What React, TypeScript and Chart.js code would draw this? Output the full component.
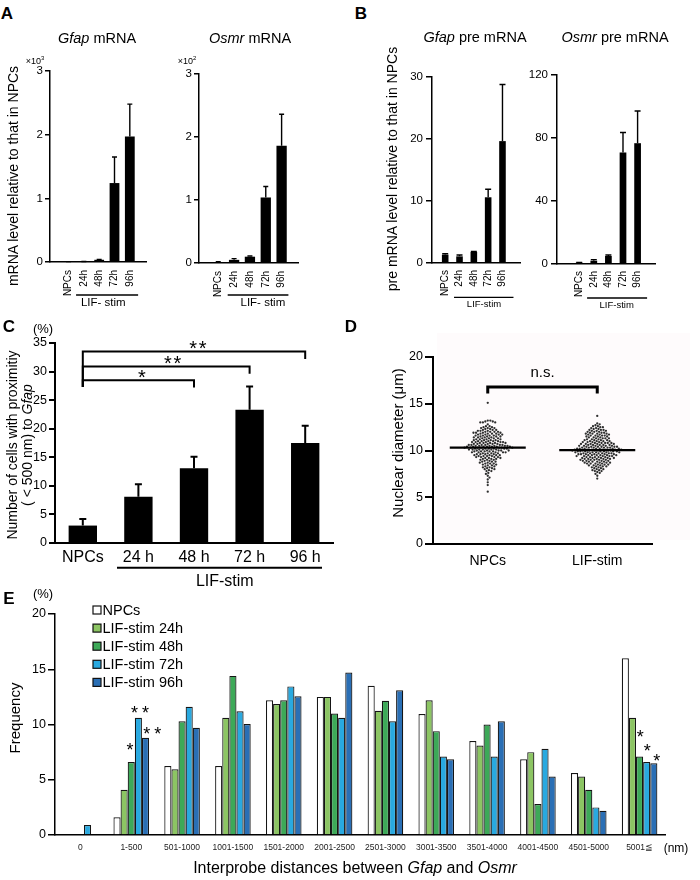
import React, { useEffect, useRef } from "react";
import { Chart, registerables } from "chart.js";

Chart.register(...registerables);

const FONT = "'Liberation Sans', Arial, Helvetica, sans-serif";
Chart.defaults.font.family = FONT;
Chart.defaults.color = "#000";

/* ---------------- panel A data ---------------- */
const timeLabels = ["NPCs", "24h", "48h", "72h", "96h"];
const gfapMrna = [0.004, 0.005, 0.035, 1.24, 1.97];
const gfapMrnaErr = [0.006, 0.007, 0.04, 1.65, 2.48];
const osmrMrna = [0.015, 0.05, 0.1, 1.04, 1.86];
const osmrMrnaErr = [0.02, 0.07, 0.11, 1.215, 2.36];

/* ---------------- panel B data ---------------- */
const gfapPre = [1.34, 1.07, 1.77, 10.6, 19.66];
const gfapPreErr = [1.5, 1.29, 1.85, 11.9, 28.8];
const osmrPre = [0.85, 2.1, 5.1, 70.8, 76.7];
const osmrPreErr = [1.0, 2.8, 5.7, 83.5, 97.1];

/* ---------------- panel C data ---------------- */
const proxLabels = ["NPCs", "24 h", "48 h", "72 h", "96 h"];
const proxValues = [3.05, 8.1, 13.1, 23.3, 17.5];
const proxErrTop = [4.2, 10.3, 15.1, 27.4, 20.5];
const proxBracketTarget = [2, 3, 4];
const proxBracketLevel = [28.5, 30.9, 33.5];
const proxBracketStars = [1, 2, 2];
const proxBracketBase = 27.3;

/* ---------------- panel D data ---------------- */
const diamGroups = ["NPCs", "LIF-stim"];
const npcDiamValues = [15.1, 13.2, 13.1, 13.0, 12.8, 12.6, 12.5, 12.4, 12.3, 12.2, 12.1, 12.0, 11.9, 11.8, 11.7, 11.6, 11.5, 11.4, 11.3, 11.2, 11.1, 11.0, 10.9, 10.8, 10.7, 10.6, 10.5, 10.4, 10.3, 10.2, 10.1, 10.0, 9.9, 9.8, 9.7, 9.6, 9.5, 9.4, 9.3, 9.2, 9.1, 9.0, 8.9, 8.8, 8.7, 8.6, 8.5, 8.4, 8.3, 8.2, 8.1, 8.0, 7.9, 7.8, 7.6, 7.5, 7.3, 7.1, 6.9, 6.6, 6.3, 5.6];
const npcDiamCounts = [1, 2, 2, 3, 1, 2, 2, 3, 2, 3, 3, 4, 4, 4, 4, 4, 4, 4, 4, 4, 4, 5, 5, 5, 5, 6, 6, 7, 7, 6, 6, 5, 5, 5, 4, 4, 4, 4, 4, 3, 3, 3, 2, 3, 2, 3, 2, 2, 2, 2, 2, 2, 1, 2, 1, 1, 1, 1, 1, 1, 1, 1];
const lifDiamValues = [13.7, 12.9, 12.8, 12.7, 12.6, 12.5, 12.4, 12.3, 12.2, 12.1, 12.0, 11.9, 11.8, 11.7, 11.6, 11.5, 11.4, 11.3, 11.2, 11.1, 11.0, 10.9, 10.8, 10.7, 10.6, 10.5, 10.4, 10.3, 10.2, 10.1, 10.0, 9.9, 9.8, 9.7, 9.6, 9.5, 9.4, 9.3, 9.2, 9.1, 9.0, 8.9, 8.8, 8.7, 8.6, 8.5, 8.4, 8.3, 8.2, 8.1, 8.0, 7.9, 7.8, 7.7, 7.6, 7.5, 7.3, 7.0];
const lifDiamCounts = [1, 1, 1, 1, 2, 2, 2, 2, 3, 3, 3, 3, 4, 3, 4, 3, 3, 4, 3, 4, 4, 4, 5, 5, 5, 5, 6, 6, 7, 7, 7, 7, 6, 6, 6, 6, 5, 5, 5, 5, 5, 4, 4, 4, 4, 3, 3, 3, 2, 2, 2, 2, 2, 1, 1, 1, 1, 1];
const diamMedians = [10.3, 10.05];
const diamBracketLevel = 16.8;
const diamBracketBase = 16.1;

/* ---------------- panel E data ---------------- */
const distLabels = ["0", "1-500", "501-1000", "1001-1500", "1501-2000", "2001-2500", "2501-3000", "3001-3500", "3501-4000", "4001-4500", "4501-5000", "5001≦"];
const distSeries = ["NPCs", "LIF-stim 24h", "LIF-stim 48h", "LIF-stim 72h", "LIF-stim 96h"];
const distNPCs = [0, 1.6, 6.25, 6.25, 12.2, 12.5, 13.5, 10.95, 8.5, 6.85, 5.6, 16.0];
const dist24h = [0, 4.1, 5.95, 10.6, 11.85, 12.5, 11.25, 12.2, 8.1, 7.5, 5.3, 10.6];
const dist48h = [0, 6.6, 10.3, 14.4, 12.2, 11.0, 12.15, 9.4, 10.0, 2.8, 4.1, 7.1];
const dist72h = [0.9, 10.6, 11.6, 11.2, 13.45, 10.6, 10.3, 7.1, 7.1, 7.8, 2.5, 6.6];
const dist96h = [0, 8.8, 9.7, 10.05, 12.55, 14.7, 13.1, 6.85, 10.3, 5.3, 2.2, 6.5];
const distSigCategory = [1, 1, 1, 11, 11, 11];
const distSigSeries = [2, 3, 4, 2, 3, 4];
const distSigStars = [1, 2, 2, 1, 1, 1];

/* ---------------- styles ---------------- */
const distColors = ["#ffffff", "#8cc563", "#3da958", "#29a9e0", "#2a6fb5"];
const distSigOffset = [[-1.2, -16.4], [1.6, -8.9], [6.8, -8.5], [0.7, -23.8], [0.6, -15.4], [2.9, -6.5]];

const f = (size: number, style = "") => `${style} ${size}px ${FONT}`.trim();

function drawStars(ctx: any, n: number, cx: number, cy: number, size: number, sep: number) {
  ctx.save();
  ctx.font = f(size);
  ctx.textAlign = "center";
  ctx.textBaseline = "alphabetic";
  ctx.fillStyle = "#000";
  for (let k = 0; k < n; k++) {
    ctx.fillText("*", cx + (k - (n - 1) / 2) * sep, cy + 0.57 * size);
  }
  ctx.restore();
}

function errorBars(errTop: number[], capHalf: number, lw: number) {
  return {
    id: "errorBars",
    afterDatasetsDraw(chart: any) {
      const meta = chart.getDatasetMeta(0);
      const ys = chart.scales.y;
      const ctx = chart.ctx;
      ctx.save();
      ctx.strokeStyle = "#000";
      ctx.lineWidth = lw;
      meta.data.forEach((bar: any, i: number) => {
        const top = ys.getPixelForValue(errTop[i]);
        ctx.beginPath();
        ctx.moveTo(bar.x, bar.y);
        ctx.lineTo(bar.x, top);
        ctx.moveTo(bar.x - capHalf, top);
        ctx.lineTo(bar.x + capHalf, top);
        ctx.stroke();
      });
      ctx.restore();
    },
  };
}

function groupLine(o: any) {
  return {
    id: "groupLine",
    afterDraw(chart: any) {
      const xs = chart.scales.x;
      const ca = chart.chartArea;
      const ctx = chart.ctx;
      const a = xs.getPixelForValue(o.from);
      const b = xs.getPixelForValue(o.to);
      const y = ca.bottom + o.lineDy;
      ctx.save();
      ctx.strokeStyle = "#000";
      ctx.lineWidth = o.lw;
      ctx.beginPath();
      ctx.moveTo(a - o.dl, y);
      ctx.lineTo(b + o.dr, y);
      ctx.stroke();
      ctx.font = f(o.size);
      ctx.textAlign = "center";
      ctx.textBaseline = "middle";
      ctx.fillStyle = "#000";
      ctx.fillText(o.text, (a + b) / 2 + o.textDx, ca.bottom + o.textDy);
      ctx.restore();
    },
  };
}

function yAxis(max: number, step: number, W: number, tickLen: number, pad: number, lw: number, size: number) {
  return {
    type: "linear",
    min: 0,
    max,
    afterFit: (s: any) => {
      s.width = W;
    },
    ticks: { stepSize: step, padding: pad, font: { size }, color: "#000" },
    grid: { drawOnChartArea: false, drawTicks: true, tickLength: tickLen, color: "#000", lineWidth: lw },
    border: { display: true, color: "#000", width: lw },
  };
}

const baseOptions = (padding: any) => ({
  responsive: false,
  maintainAspectRatio: false,
  animation: false,
  devicePixelRatio: 1,
  layout: { padding },
  plugins: { legend: { display: false }, tooltip: { enabled: false }, title: { display: false } },
});

function smallBar(o: any) {
  return (canvas: HTMLCanvasElement) =>
    new Chart(canvas, {
      type: "bar",
      data: {
        datasets: [
          {
            data: o.values.map((v: number, i: number) => ({ x: i, y: v })),
            backgroundColor: "#000",
            borderWidth: 0,
            barPercentage: o.barPct,
            categoryPercentage: 1,
          },
        ],
      },
      options: {
        ...baseOptions(o.pad),
        scales: {
          x: {
            type: "linear",
            min: o.xMin,
            max: o.xMax,
            afterBuildTicks: (s: any) => {
              s.ticks = timeLabels.map((_, i) => ({ value: i }));
            },
            afterFit: (s: any) => {
              s.height = o.H;
            },
            ticks: {
              autoSkip: false,
              minRotation: 90,
              maxRotation: 90,
              padding: o.xPad,
              font: { size: 10 },
              color: "#000",
              callback: (v: any) => timeLabels[v] ?? "",
            },
            grid: { display: false, drawTicks: false },
            border: { display: true, color: "#000", width: 1.5 },
          },
          y: yAxis(o.yMax, o.yStep, o.W, o.tickLen, o.tickPad, 1.5, 11.5),
        },
      } as any,
      plugins: [errorBars(o.errs, o.cap, 1.4), groupLine(o.line)],
    } as any);
}

const buildA1 = smallBar({
  values: gfapMrna, errs: gfapMrnaErr, yMax: 3, yStep: 1, xMin: -0.585, xMax: 4.43, barPct: 0.64,
  W: 50, H: 53, pad: { left: 0, right: 29, top: 31, bottom: 0 }, tickLen: 5, tickPad: 2, xPad: 8, cap: 2.5,
  line: { from: 1, to: 4, dl: 7.8, dr: 8.3, lineDy: 33, textDy: 41, textDx: -3.6, size: 11.5, text: "LIF- stim", lw: 1.4 },
});
const buildA2 = smallBar({
  values: osmrMrna, errs: osmrMrnaErr, yMax: 3, yStep: 1, xMin: -0.59, xMax: 4.41, barPct: 0.65,
  W: 29, H: 52, pad: { left: 0, right: 22, top: 34, bottom: 0 }, tickLen: 5, tickPad: 2, xPad: 8, cap: 2.5,
  line: { from: 1, to: 4, dl: 6.4, dr: 6.8, lineDy: 32, textDy: 40.3, textDx: 5, size: 11.5, text: "LIF- stim", lw: 1.4 },
});
const buildB1 = smallBar({
  values: gfapPre, errs: gfapPreErr, yMax: 30, yStep: 10, xMin: -0.307, xMax: 4.609, barPct: 0.46,
  W: 37, H: 52, pad: { left: 0, right: 25, top: 37, bottom: 0 }, tickLen: 6, tickPad: 3, xPad: 7, cap: 3,
  line: { from: 1, to: 4, dl: 5.5, dr: 11, lineDy: 34.4, textDy: 41.7, textDx: 3, size: 9.5, text: "LIF-stim", lw: 1.4 },
});
const buildB2 = smallBar({
  values: osmrPre, errs: osmrPreErr, yMax: 120, yStep: 40, xMin: -0.849, xMax: 4.521, barPct: 0.46,
  W: 37, H: 51, pad: { left: 0, right: 30, top: 35, bottom: 0 }, tickLen: 6, tickPad: 3, xPad: 7, cap: 3,
  line: { from: 1, to: 4, dl: 6.7, dr: 9.5, lineDy: 34, textDy: 41, textDx: 1, size: 9.5, text: "LIF-stim", lw: 1.4 },
});

const proxBrackets = {
  id: "proxBrackets",
  afterDatasetsDraw(chart: any) {
    const xs = chart.scales.x;
    const ys = chart.scales.y;
    const ctx = chart.ctx;
    const x0 = xs.getPixelForValue(0);
    const yBase = ys.getPixelForValue(proxBracketBase);
    ctx.save();
    ctx.strokeStyle = "#000";
    ctx.lineWidth = 2;
    ctx.lineJoin = "miter";
    proxBracketTarget.forEach((t, k) => {
      const x1 = xs.getPixelForValue(t);
      const y = ys.getPixelForValue(proxBracketLevel[k]);
      const yr = ys.getPixelForValue(proxBracketLevel[k] - 1.3);
      ctx.beginPath();
      ctx.moveTo(x0, yBase);
      ctx.lineTo(x0, y);
      ctx.lineTo(x1, y);
      ctx.lineTo(x1, yr);
      ctx.stroke();
      const dx = [3.5, 6.5, 4][k];
      drawStars(ctx, proxBracketStars[k], (x0 + x1) / 2 + dx, y - 7.5, 20, 9.5);
    });
    ctx.restore();
  },
};

function buildC(canvas: HTMLCanvasElement) {
  return new Chart(canvas, {
    type: "bar",
    data: {
      labels: proxLabels,
      datasets: [{ data: proxValues, backgroundColor: "#000", borderWidth: 0, barPercentage: 0.51, categoryPercentage: 1 }],
    },
    options: {
      ...baseOptions({ left: 0, right: 12, top: 23, bottom: 0 }),
      scales: {
        x: {
          type: "category",
          afterFit: (s: any) => {
            s.height = 52;
          },
          ticks: { autoSkip: false, maxRotation: 0, minRotation: 0, padding: 5.4, font: { size: 16 }, color: "#000" },
          grid: { display: false, drawTicks: false },
          border: { display: true, color: "#000", width: 2 },
        },
        y: yAxis(35, 5, 55, 6, 2, 2, 12.5),
      },
    } as any,
    plugins: [
      errorBars(proxErrTop, 3.5, 2),
      proxBrackets,
      groupLine({ from: 1, to: 4, dl: 21.4, dr: 16.8, lineDy: 24.7, textDy: 39, textDx: 3, size: 16, text: "LIF-stim", lw: 2 }),
    ],
  } as any);
}

function expand(values: number[], counts: number[]) {
  const out: number[] = [];
  values.forEach((v, i) => {
    for (let k = 0; k < counts[i]; k++) out.push(v);
  });
  return out;
}

function swarmOffsets(py: number[], d: number) {
  const idx = py.map((_, i) => i).sort((a, b) => py[a] - py[b]);
  const placed: number[][] = [];
  const res = new Array(py.length).fill(0);
  idx.forEach((i, n) => {
    const y = py[i];
    const near = placed.filter((p) => Math.abs(p[1] - y) < d);
    const cands = [0];
    near.forEach((p) => {
      const dx = Math.sqrt(d * d - (p[1] - y) * (p[1] - y));
      cands.push(p[0] + dx, p[0] - dx);
    });
    const sgn = n % 2 === 0 ? 1 : -1;
    cands.sort((a, b) => Math.abs(a) - Math.abs(b) || sgn * (b - a));
    let x = 0;
    for (const c of cands) {
      if (near.every((p) => (p[0] - c) ** 2 + (p[1] - y) ** 2 >= d * d - 1e-6)) {
        x = c;
        break;
      }
    }
    placed.push([x, y]);
    res[i] = x;
  });
  return res;
}

const diamExtras = {
  id: "diamExtras",
  afterDatasetsDraw(chart: any) {
    const xs = chart.scales.x;
    const ys = chart.scales.y;
    const ctx = chart.ctx;
    ctx.save();
    ctx.strokeStyle = "#000";
    ctx.lineWidth = 2.2;
    diamMedians.forEach((m, k) => {
      const cx = xs.getPixelForValue(k);
      const y = ys.getPixelForValue(m);
      ctx.beginPath();
      ctx.moveTo(cx - 38, y);
      ctx.lineTo(cx + 38, y);
      ctx.stroke();
    });
    const x1 = xs.getPixelForValue(0);
    const x2 = xs.getPixelForValue(1);
    const yb = ys.getPixelForValue(diamBracketLevel);
    const yd = ys.getPixelForValue(diamBracketBase);
    ctx.lineWidth = 3;
    ctx.lineJoin = "miter";
    ctx.beginPath();
    ctx.moveTo(x1, yd);
    ctx.lineTo(x1, yb);
    ctx.lineTo(x2, yb);
    ctx.lineTo(x2, yd);
    ctx.stroke();
    ctx.font = f(15);
    ctx.textAlign = "center";
    ctx.textBaseline = "middle";
    ctx.fillStyle = "#000";
    ctx.fillText("n.s.", (x1 + x2) / 2, yb - 14);
    ctx.restore();
  },
};

function buildD(canvas: HTMLCanvasElement) {
  const groups = [expand(npcDiamValues, npcDiamCounts), expand(lifDiamValues, lifDiamCounts)];
  const chart = new Chart(canvas, {
    type: "scatter",
    data: {
      datasets: groups.map((vals, k) => ({
        data: vals.map((v) => ({ x: k, y: v })),
        backgroundColor: "#2e2e2e",
        borderWidth: 0,
        pointRadius: 1.15,
        pointHoverRadius: 1.15,
      })),
    },
    options: {
      ...baseOptions({ left: 0, right: 38, top: 27, bottom: 0 }),
      scales: {
        x: {
          type: "linear",
          min: -0.5,
          max: 1.5,
          afterBuildTicks: (s: any) => {
            s.ticks = diamGroups.map((_, i) => ({ value: i }));
          },
          afterFit: (s: any) => {
            s.height = 36;
          },
          ticks: { autoSkip: false, maxRotation: 0, minRotation: 0, padding: 8.3, font: { size: 14 }, color: "#000", callback: (v: any) => diamGroups[v] ?? "" },
          grid: { display: false, drawTicks: false },
          border: { display: true, color: "#000", width: 2 },
        },
        y: yAxis(20, 5, 53, 8, 2, 2, 12.5),
      },
    } as any,
    plugins: [diamExtras],
  } as any);
  const xs: any = chart.scales.x;
  const ys: any = chart.scales.y;
  const ppu = xs.getPixelForValue(1) - xs.getPixelForValue(0);
  groups.forEach((vals, k) => {
    const offs = swarmOffsets(vals.map((v) => ys.getPixelForValue(v)), 2.6);
    (chart.data.datasets[k] as any).data = vals.map((v, i) => ({ x: k + offs[i] / ppu, y: v }));
  });
  chart.update();
  return chart;
}

const distExtras = {
  id: "distExtras",
  afterDatasetsDraw(chart: any) {
    const ca = chart.chartArea;
    const ctx = chart.ctx;
    ctx.save();
    distSeries.forEach((name, k) => {
      const cy = ca.top - 4 + k * 18.1;
      const bx = ca.left + 38;
      ctx.fillStyle = distColors[k];
      ctx.fillRect(bx, cy - 4, 8, 8);
      ctx.strokeStyle = "#111";
      ctx.lineWidth = 1.2;
      ctx.strokeRect(bx, cy - 4, 8, 8);
      ctx.fillStyle = "#000";
      ctx.font = f(14.5);
      ctx.textAlign = "left";
      ctx.textBaseline = "middle";
      ctx.fillText(name, bx + 9.5, cy + 0.5);
    });
    ctx.restore();
    distSigCategory.forEach((c, m) => {
      const bar = chart.getDatasetMeta(distSigSeries[m]).data[c];
      drawStars(ctx, distSigStars[m], bar.x + distSigOffset[m][0], bar.y + distSigOffset[m][1], 18, 11);
    });
  },
};

function buildE(canvas: HTMLCanvasElement) {
  const series = [distNPCs, dist24h, dist48h, dist72h, dist96h];
  return new Chart(canvas, {
    type: "bar",
    data: {
      labels: distLabels,
      datasets: series.map((d, k) => ({
        label: distSeries[k],
        data: d,
        backgroundColor: distColors[k],
        borderColor: "#151515",
        borderWidth: 1.2,
        categoryPercentage: 0.7,
        barPercentage: 1,
      })),
    },
    options: {
      ...baseOptions({ left: 0, right: 35, top: 17, bottom: 0 }),
      scales: {
        x: {
          type: "category",
          afterFit: (s: any) => {
            s.height = 45;
          },
          ticks: { autoSkip: false, maxRotation: 0, minRotation: 0, padding: 7.9, font: { size: 8.5 }, color: "#222" },
          grid: { display: false, drawTicks: false },
          border: { display: true, color: "#000", width: 1.5 },
        },
        y: yAxis(20, 5, 55, 7, 2, 1.5, 12.5),
      },
    } as any,
    plugins: [distExtras],
  } as any);
}

function ChartCanvas({ left, top, width, height, build }: any) {
  const ref = useRef<HTMLCanvasElement | null>(null);
  useEffect(() => {
    if (!ref.current) return;
    const chart = build(ref.current);
    return () => chart.destroy();
  }, [build]);
  return <canvas ref={ref} width={width} height={height} style={{ position: "absolute", left, top, width, height }} />;
}

function T({ x, y, size, rot, bold, children, lh }: any) {
  return (
    <div
      style={{
        position: "absolute",
        left: x,
        top: y,
        transform: `translate(-50%, -50%)${rot ? " rotate(-90deg)" : ""}`,
        fontSize: size,
        lineHeight: lh ? `${lh}px` : 1,
        whiteSpace: "nowrap",
        fontWeight: bold ? "bold" : "normal",
        textAlign: "center",
      }}
    >
      {children}
    </div>
  );
}

export default function App() {
  return (
    <div
      style={{
        position: "absolute",
        left: 0,
        top: 0,
        width: 700,
        height: 880,
        background: "#fff",
        overflow: "hidden",
        fontFamily: FONT,
        color: "#000",
      }}
    >
      <div style={{ position: "absolute", left: 437, top: 333, width: 253, height: 207, background: "#fefbfc" }} />
      <ChartCanvas left={0} top={40} width={175} height={275} build={buildA1} />
      <ChartCanvas left={170} top={40} width={150} height={275} build={buildA2} />
      <ChartCanvas left={395} top={40} width={150} height={275} build={buildB1} />
      <ChartCanvas left={520} top={40} width={165} height={275} build={buildB2} />
      <ChartCanvas left={0} top={320} width={345} height={275} build={buildC} />
      <ChartCanvas left={380} top={330} width={310} height={250} build={buildD} />
      <ChartCanvas left={0} top={597} width={700} height={283} build={buildE} />

      <T x={7} y={12.5} size={17} bold>A</T>
      <T x={361} y={12.5} size={17} bold>B</T>
      <T x={9} y={326} size={17} bold>C</T>
      <T x={351} y={326} size={17} bold>D</T>
      <T x={9} y={597.5} size={17} bold>E</T>

      <T x={97} y={38} size={14.5}><i>Gfap</i> mRNA</T>
      <T x={250} y={38} size={14.5}><i>Osmr</i> mRNA</T>
      <T x={35} y={60} size={9}>×10<sup style={{ fontSize: 6 }}>3</sup></T>
      <T x={187} y={60} size={9}>×10<sup style={{ fontSize: 6 }}>2</sup></T>
      <T x={13} y={176} size={14} rot>mRNA  level relative to that in NPCs</T>

      <T x={475} y={37} size={14.5}><i>Gfap</i> pre mRNA</T>
      <T x={615} y={37} size={14.5}><i>Osmr</i> pre mRNA</T>
      <T x={392} y={169} size={14} rot>pre mRNA level relative to that in NPCs</T>

      <T x={43} y={328} size={13}>(%)</T>
      <T x={19.5} y={445} size={14} rot lh={15}>
        <div>Number of cells with proximitiy</div>
        <div>( &lt; 500 nm) to <i>Gfap</i></div>
      </T>

      <T x={397} y={443} size={15} rot>Nuclear diameter (μm)</T>

      <T x={43} y={593} size={13}>(%)</T>
      <T x={14} y={718} size={15} rot>Frequency</T>
      <T x={355} y={868} size={16}>Interprobe distances between <i>Gfap</i> and <i>Osmr</i></T>
      <T x={676} y={848} size={12}>(nm)</T>
    </div>
  );
}
